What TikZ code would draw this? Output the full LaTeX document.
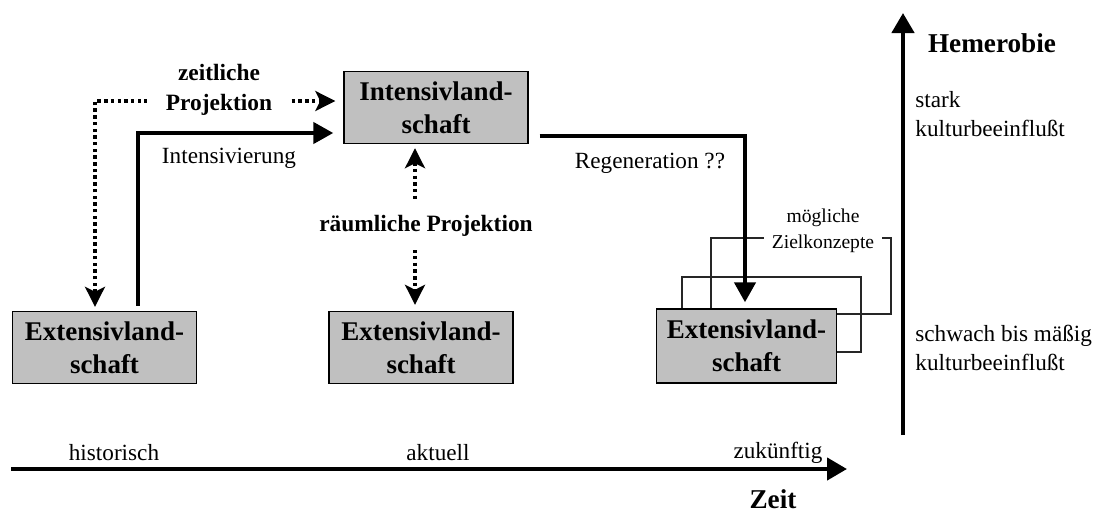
\documentclass[tikz,border=0pt]{standalone}
\usepackage{fontspec}
\setmainfont{Liberation Serif}
\usetikzlibrary{arrows.meta,calc}
\definecolor{boxgray}{HTML}{C0C0C0}
\begin{document}
\begin{tikzpicture}[x=0.5pt,y=-0.5pt,
  landbox/.style={draw=black,line width=0.7pt,fill=boxgray,align=center,inner sep=0pt,
    minimum width=92pt,minimum height=36pt,font=\fontsize{13.5}{16.5}\selectfont\bfseries},
  concept/.style={draw=black!85,line width=0.6pt,inner sep=0pt},
  heavy/.style={line width=2.15pt,-{Triangle[length=10pt,width=10.5pt]}},
  projline/.style={line width=1.75pt,dash pattern=on 1.75pt off 1.6pt,
    {Stealth[length=10pt,width=10pt,inset=2.5pt]}-{Stealth[length=10pt,width=10pt,inset=2.5pt]}},
  lbl/.style={inner sep=0pt,font=\fontsize{11.6}{14.5}\selectfont},
  blbl/.style={inner sep=0pt,font=\fontsize{11.7}{15}\selectfont\bfseries},
  axis/.style={line width=2.2pt,-{Triangle[length=10pt,width=11pt]}}]
\useasboundingbox (0,0) rectangle (1104,515);

% possible target concepts behind the future landscape
\node[concept,minimum width=90pt,minimum height=38pt] (alt2) at (801,276) {};
\node[concept,minimum width=89.5pt,minimum height=37.5pt] (alt1) at (771.5,314.5) {};
\node[fill=white,align=center,inner xsep=4pt,inner ysep=1pt,
  font=\fontsize{9.8}{13}\selectfont] (zk) at (823,231) {mögliche\\Zielkonzepte};

% landscapes
\node[landbox] (intens) at (436,107.5) {Intensivland-\\schaft};
\node[landbox] (left) at (104.5,347.5) {Extensivland-\\schaft};
\node[landbox] (mid) at (421,347.5) {Extensivland-\\schaft};
\node[landbox,minimum width=90pt,minimum height=37pt] (right) at (746.5,346) {Extensivland-\\schaft};

% development paths
\draw[heavy] ($(left.north)+(33.5,-5)$) |- ($(intens.west)+(-10,25.5)$);
\node[lbl] (intlab) at (229,158) {Intensivierung};
\draw[heavy] ($(intens.east)+(11,28.5)$) -| ($(right.north)+(-1.5,-6)$);
\node[lbl] (reglab) at (650,163) {Regeneration ??};

% projections
\draw[projline] ($(left.north)+(-9.5,-4)$) |- ($(intens.west)+(-8,-6.5)$);
\node[blbl,fill=white,align=center,inner xsep=9.25pt,inner ysep=1pt] (zp) at (219,90) {zeitliche\\Projektion};
\draw[projline] ($(intens.south)+(-21,4)$) -- ($(mid.north)+(-6,-6)$);
\node[blbl,fill=white,inner xsep=1pt,inner ysep=6.75pt] (rp) at (426,226) {räumliche Projektion};

% time axis
\coordinate (t0) at (11,469);
\coordinate (t1) at (847,469);
\draw[axis] (t0) -- (t1);
\node[lbl] (hist) at (114,453) {historisch};
\node[lbl] (akt) at (438,453) {aktuell};
\node[lbl] (zuk) at (778,453) {zukünftig};
\node[inner sep=0pt,font=\fontsize{13.6}{16}\selectfont\bfseries] (zeit) at (773,499) {Zeit};

% hemeroby axis
\coordinate (h0) at (903,435);
\coordinate (h1) at (903,13);
\draw[axis] (h0) -- (h1);
\node[inner sep=0pt,font=\fontsize{13.6}{16}\selectfont\bfseries] (hem) at (992,43) {Hemerobie};
\node[lbl,anchor=west,align=left] (stark) at (915,114) {stark\\kulturbeeinflußt};
\node[lbl,anchor=west,align=left] (schwach) at (915,347.5) {schwach bis mäßig\\kulturbeeinflußt};
\end{tikzpicture}
\end{document}
